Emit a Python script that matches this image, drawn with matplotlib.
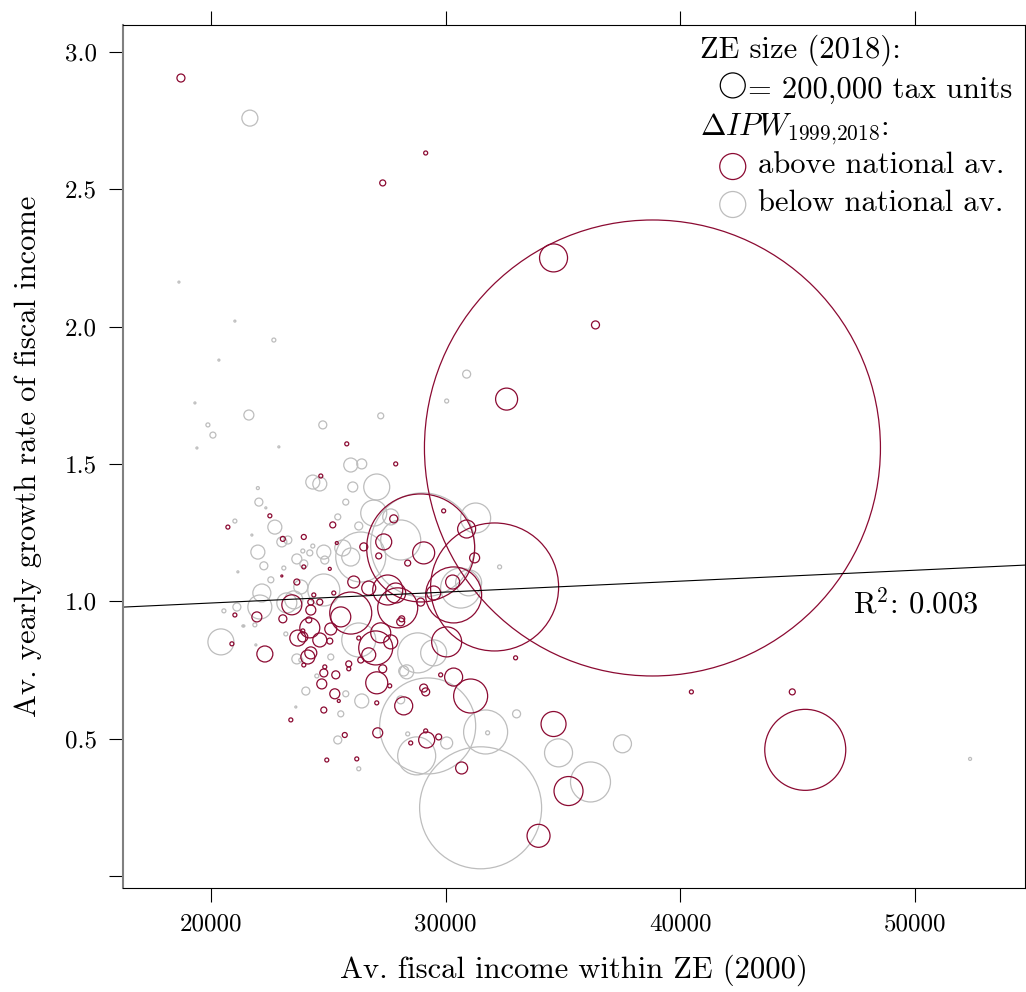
import matplotlib
matplotlib.use("Agg")
import matplotlib.pyplot as plt

plt.rcParams['font.family'] = ['cmr10', 'DejaVu Serif']
plt.rcParams['mathtext.fontset'] = 'cm'
plt.rcParams['axes.formatter.use_mathtext'] = True

# zones with IPW growth above the national average
red_income = [38809, 32085, 28936, 45319, 32596, 34596, 36383, 35234, 34596, 33957,
              40468, 44766, 31064, 30043, 30340, 28213, 29064, 29149, 29787, 32979,
              29191, 29702, 28511, 29149, 30681, 27617, 28085, 27660, 22298, 23404,
              24936, 26213, 25702, 24809, 25277, 25447, 24723, 24809, 25319, 24128,
              24255, 23957, 24851, 25064, 24638, 23915, 23702, 21957, 21021, 23064,
              23915, 25872, 25872, 26383, 27064, 27319, 27064, 27106, 20723, 23064,
              24681, 25787, 27872, 22511, 23957, 25191, 23021, 23660, 20894, 23447,
              24255, 24383, 24638, 24255, 24170, 24213, 25106, 25234, 26085, 26723,
              26511, 27149, 27362, 27787, 28383, 29064, 25957, 27021, 27532, 27957,
              27234, 26723, 26298, 28128, 29915, 30894, 31234, 27872, 25532, 29489,
              28936, 30298, 30340, 25362, 25064, 23957, 18723, 29149, 27319]
red_growth = [1.558, 1.052, 1.194, 0.459, 1.736, 2.250, 2.006, 0.309, 0.553, 0.146,
              0.670, 0.670, 0.655, 0.852, 0.724, 0.619, 0.684, 0.670, 0.732, 0.794,
              0.495, 0.506, 0.484, 0.528, 0.393, 0.692, 0.925, 0.852, 0.808, 0.568,
              0.422, 0.426, 0.513, 0.604, 0.663, 0.637, 0.699, 0.739, 0.732, 0.797,
              0.812, 0.768, 0.761, 0.855, 0.859, 0.870, 0.866, 0.943, 0.950, 0.936,
              0.892, 0.772, 0.754, 0.786, 0.703, 0.754, 0.630, 0.521, 1.270, 1.227,
              1.456, 1.573, 1.500, 1.311, 1.234, 1.278, 1.092, 1.070, 0.845, 0.987,
              0.997, 1.023, 0.997, 0.968, 0.932, 0.903, 0.899, 1.030, 1.070, 1.048,
              1.198, 1.165, 1.216, 1.300, 1.139, 1.176, 0.957, 0.830, 1.041, 0.976,
              0.885, 0.805, 0.866, 0.936, 1.329, 1.263, 1.158, 1.030, 0.943, 1.030,
              0.997, 1.070, 1.023, 1.212, 1.118, 1.125, 2.905, 2.632, 2.523]
red_size = [3648, 1024, 864, 648, 176, 224, 64, 232, 200, 184,
            32, 48, 272, 240, 144, 144, 64, 64, 32, 32,
            128, 48, 32, 32, 96, 32, 64, 112, 128, 32,
            32, 32, 40, 48, 80, 24, 80, 64, 64, 112,
            96, 32, 32, 48, 112, 80, 128, 80, 32, 64,
            32, 48, 32, 48, 176, 64, 32, 80, 32, 40,
            32, 32, 32, 32, 40, 48, 16, 48, 32, 160,
            48, 32, 48, 80, 48, 160, 96, 32, 96, 112,
            64, 48, 128, 64, 48, 176, 336, 272, 240, 320,
            160, 112, 32, 48, 32, 144, 80, 160, 160, 112,
            64, 112, 448, 24, 24, 32, 64, 32, 48]

# zones with IPW growth below the national average
grey_income = [31489, 29234, 31702, 28766, 34809, 36170, 37532, 33021, 30043, 31787,
               28383, 28809, 29489, 28340, 28085, 52340, 24043, 25745, 26426, 25532,
               25404, 26298, 23617, 23191, 21915, 21362, 28213, 25106, 21660, 18638,
               21021, 22681, 20340, 19319, 30894, 30043, 27234, 24766, 21617, 19872,
               20085, 19404, 22894, 25957, 26426, 24340, 24638, 26043, 27064, 25745,
               22000, 22043, 22340, 21021, 21745, 22723, 23021, 23277, 22000, 22255,
               21149, 23915, 24340, 24213, 23660, 23957, 23106, 24809, 24851, 25404,
               26298, 26936, 25617, 25957, 22553, 22170, 22085, 23532, 23830, 20553,
               21106, 20426, 21404, 21872, 23660, 24511, 27660, 29021, 32298, 30979,
               30638, 26298, 26383, 28085, 31277, 24809, 23234, 23830]
grey_growth = [0.248, 0.546, 0.524, 0.437, 0.448, 0.342, 0.481, 0.590, 0.484, 0.521,
               0.517, 0.812, 0.812, 0.743, 0.641, 0.426, 0.673, 0.663, 0.637, 0.590,
               0.495, 0.390, 0.615, 0.881, 0.841, 0.910, 0.746, 0.797, 2.759, 2.162,
               2.020, 1.951, 1.878, 1.722, 1.827, 1.729, 1.675, 1.642, 1.678, 1.642,
               1.605, 1.558, 1.562, 1.496, 1.500, 1.434, 1.427, 1.416, 1.416, 1.361,
               1.412, 1.361, 1.340, 1.292, 1.241, 1.270, 1.216, 1.223, 1.179, 1.129,
               1.107, 1.183, 1.201, 1.176, 1.154, 1.136, 1.121, 1.179, 1.150, 1.307,
               1.274, 1.321, 1.194, 1.161, 1.078, 1.030, 0.979, 1.005, 1.052, 0.965,
               0.979, 0.852, 0.910, 0.914, 0.790, 0.728, 1.307, 1.205, 1.125, 1.067,
               1.048, 0.859, 1.161, 1.223, 1.303, 1.041, 0.994, 0.786]
grey_size = [976, 768, 352, 304, 224, 320, 144, 64, 96, 32,
             32, 320, 208, 112, 64, 24, 64, 48, 112, 48,
             64, 32, 16, 32, 16, 16, 80, 48, 128, 16,
             16, 32, 16, 16, 64, 32, 48, 64, 80, 32,
             48, 16, 16, 112, 80, 112, 112, 80, 208, 48,
             24, 64, 16, 32, 16, 112, 80, 64, 112, 64,
             16, 32, 32, 48, 80, 64, 32, 112, 64, 48,
             64, 208, 128, 144, 48, 144, 192, 144, 112, 32,
             64, 208, 16, 32, 80, 32, 128, 832, 32, 208,
             320, 272, 400, 320, 240, 256, 160, 32]

# fitted line
fit_intercept = 0.914
fit_slope = 3.98e-6
r2_value = 0.003

x_ticks = [20000, 30000, 40000, 50000]
y_ticks = [0.0, 0.5, 1.0, 1.5, 2.0, 2.5, 3.0]
y_ticklabels = ['', '0.5', '1.0', '1.5', '2.0', '2.5', '3.0']

red = '#8b0a32'
grey = '#bdbdbd'


def area(sizes):
    # circle radius grows linearly with the number of tax units
    return [(0.09 * s) ** 2 for s in sizes]


fig = plt.figure(figsize=(10.26, 9.92), dpi=100)
ax = fig.add_axes([123 / 1026, 104 / 992, 902 / 1026, 863 / 992])

ax.scatter(grey_income, grey_growth, s=area(grey_size), facecolors='none',
           edgecolors=grey, linewidths=0.9)
ax.scatter(red_income, red_growth, s=area(red_size), facecolors='none',
           edgecolors=red, linewidths=0.9)

xmin, xmax = 16255, 54680
ax.plot([xmin, xmax], [fit_intercept + fit_slope * xmin, fit_intercept + fit_slope * xmax],
        color='black', lw=0.8)

ax.set_xlim(xmin, xmax)
ax.set_ylim(-0.044, 3.098)

ax.set_xticks(x_ticks)
ax.set_xticklabels([str(t) for t in x_ticks])
ax.set_yticks(y_ticks)
ax.set_yticklabels(y_ticklabels)
ax.tick_params(axis='x', top=True, bottom=True, direction='out', length=10,
               width=0.8, labelsize=18, pad=8)
ax.tick_params(axis='y', left=True, right=False, direction='out', length=10,
               width=0.8, labelsize=18, pad=9)

for side in ['top', 'right', 'bottom']:
    ax.spines[side].set_linewidth(0.8)
ax.spines['left'].set_color('#808080')
ax.spines['left'].set_linewidth(1.5)

ax.set_xlabel('Av. fiscal income within ZE (2000)', fontsize=22, labelpad=14)
ax.set_ylabel('Av. yearly growth rate of fiscal income', fontsize=22, labelpad=16)

# legend, drawn by hand
ax.text(0.640, 0.962, 'ZE size (2018):', transform=ax.transAxes, fontsize=22, va='baseline')
ax.scatter([0.676], [0.930], s=area([200]), transform=ax.transAxes, facecolors='none',
           edgecolors='black', linewidths=0.9, clip_on=False)
ax.text(0.693, 0.9154, '= 200,000 tax units', transform=ax.transAxes, fontsize=22,
        va='baseline')
ax.text(0.640, 0.8725, r'$\Delta IPW_{1999{,}2018}$:', transform=ax.transAxes,
        fontsize=22, va='baseline')
ax.scatter([0.676], [0.836], s=area([208]), transform=ax.transAxes, facecolors='none',
           edgecolors=red, linewidths=0.9, clip_on=False)
ax.text(0.704, 0.8285, 'above national av.', transform=ax.transAxes, fontsize=22,
        va='baseline')
ax.scatter([0.676], [0.792], s=area([208]), transform=ax.transAxes, facecolors='none',
           edgecolors=grey, linewidths=0.9, clip_on=False)
ax.text(0.704, 0.7845, 'below national av.', transform=ax.transAxes, fontsize=22,
        va='baseline')

ax.text(0.809, 0.3187, 'R$^2$: %.3f' % r2_value, transform=ax.transAxes, fontsize=22,
        va='baseline')

fig.savefig('out.png', dpi=100)
